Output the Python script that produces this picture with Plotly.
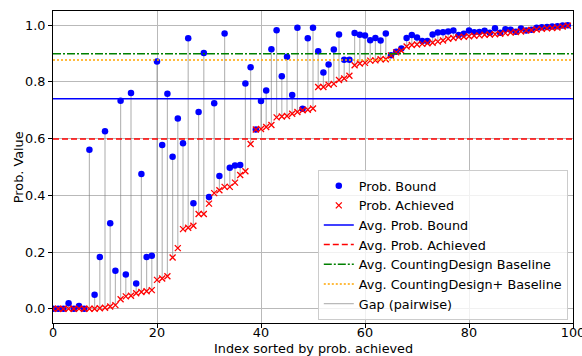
import plotly.graph_objects as go

# ---- data ----
index = list(range(100))
prob_bound = [
    0.0, 0.0, 0.0, 0.02, 0.0, 0.01, 0.0, 0.561, 0.05, 0.183,
    0.626, 0.302, 0.134, 0.734, 0.121, 0.761, 0.089, 0.475, 0.183, 0.187,
    0.872, 0.578, 0.758, 0.536, 0.671, 0.584, 0.954, 0.372, 0.694, 0.902,
    0.394, 0.725, 0.468, 0.971, 0.497, 0.505, 0.507, 0.794, 0.852, 0.632,
    0.733, 0.770, 0.915, 0.982, 0.820, 0.889, 0.754, 0.991, 0.705, 0.954,
    0.991, 0.908, 0.833, 0.861, 0.914, 0.967, 0.878, 0.878, 0.972, 0.966,
    0.964, 0.947, 0.955, 0.946, 0.971, 0.894, 0.906, 0.918, 0.955, 0.965,
    0.957, 0.944, 0.944, 0.967, 0.974, 0.975, 0.978, 0.981, 0.965, 0.970,
    0.981, 0.975, 0.976, 0.980, 0.973, 0.989, 0.973, 0.986, 0.984, 0.977,
    0.988, 0.981, 0.984, 0.991, 0.993, 0.994, 0.995, 0.996, 0.999, 1.0,
]
prob_achieved = [
    0.0, 0.0, 0.0, 0.0, 0.0, 0.0, 0.0, 0.0, 0.0, 0.002,
    0.004, 0.008, 0.013, 0.034, 0.044, 0.046, 0.055, 0.059, 0.062, 0.066,
    0.102, 0.107, 0.115, 0.181, 0.214, 0.281, 0.286, 0.293, 0.334, 0.334,
    0.371, 0.408, 0.418, 0.430, 0.430, 0.445, 0.472, 0.485, 0.581, 0.632,
    0.634, 0.641, 0.648, 0.675, 0.678, 0.680, 0.688, 0.694, 0.700, 0.702,
    0.706, 0.782, 0.782, 0.790, 0.793, 0.807, 0.812, 0.822, 0.859, 0.865,
    0.867, 0.875, 0.876, 0.880, 0.880, 0.893, 0.904, 0.910, 0.925, 0.930,
    0.932, 0.934, 0.936, 0.938, 0.942, 0.946, 0.952, 0.955, 0.958, 0.959,
    0.961, 0.963, 0.964, 0.966, 0.967, 0.968, 0.970, 0.972, 0.974, 0.976,
    0.978, 0.981, 0.983, 0.985, 0.987, 0.989, 0.990, 0.992, 0.995, 0.998,
]
avg_bound = 0.741
avg_achieved = 0.599
avg_counting = 0.899
avg_counting_plus = 0.877
x_ticks = [0, 20, 40, 60, 80, 100]
y_ticks = [0.0, 0.2, 0.4, 0.6, 0.8, 1.0]

FONT = "DejaVu Sans"
FS = 12.8
fig = go.Figure()

# gap segments
gx, gy = [], []
for i, b, a in zip(index, prob_bound, prob_achieved):
    gx += [i, i, None]
    gy += [a, b, None]
fig.add_trace(go.Scatter(x=gx, y=gy, mode="lines", name="Gap (pairwise)",
                         line=dict(color="rgba(128,128,128,0.55)", width=1.2),
                         legendrank=7, hoverinfo="skip"))

fig.add_trace(go.Scatter(x=index, y=prob_bound, mode="markers", name="Prob. Bound",
                         marker=dict(color="blue", size=6.5, symbol="circle"),
                         legendrank=1))
fig.add_trace(go.Scatter(x=index, y=prob_achieved, mode="markers", name="Prob. Achieved",
                         marker=dict(color="red", size=6, symbol="x-thin",
                                     line=dict(color="red", width=1.3)),
                         legendrank=2))

xr = [x_ticks[0], x_ticks[-1]]
fig.add_trace(go.Scatter(x=xr, y=[avg_bound] * 2, mode="lines", name="Avg. Prob. Bound",
                         line=dict(color="blue", width=1.5), legendrank=3))
fig.add_trace(go.Scatter(x=xr, y=[avg_achieved] * 2, mode="lines", name="Avg. Prob. Achieved",
                         line=dict(color="red", width=1.5, dash="6px,3px"), legendrank=4))
fig.add_trace(go.Scatter(x=xr, y=[avg_counting] * 2, mode="lines",
                         name="Avg. CountingDesign Baseline",
                         line=dict(color="green", width=1.5, dash="8px,2px,2px,2px"),
                         legendrank=5))
fig.add_trace(go.Scatter(x=xr, y=[avg_counting_plus] * 2, mode="lines",
                         name="Avg. CountingDesign+ Baseline",
                         line=dict(color="orange", width=1.5, dash="2px,2px"),
                         legendrank=6))

axis_common = dict(showline=True, linecolor="black", linewidth=1, mirror=True,
                   ticks="outside", ticklen=4, tickcolor="black",
                   showgrid=True, gridcolor="#b9b9b9", gridwidth=0.8,
                   zeroline=False, ticklabeloverflow="allow", automargin=False,
                   tickfont=dict(family=FONT, size=FS, color="black"))

fig.update_xaxes(range=xr, tickvals=x_ticks, ticklabelstandoff=-6, **axis_common)
fig.update_yaxes(range=[-0.05, 1.05], tickvals=y_ticks, tickformat=".1f", **axis_common)

fig.update_layout(
    width=582, height=356,
    margin=dict(l=53, r=9, t=11, b=33, autoexpand=False),
    plot_bgcolor="white", paper_bgcolor="white",
    font=dict(family=FONT, size=FS, color="black"),
    legend=dict(x=0.99, y=0.01, xanchor="right", yanchor="bottom",
                bgcolor="rgba(255,255,255,0.8)", bordercolor="#cccccc", borderwidth=1,
                font=dict(family=FONT, size=FS), itemwidth=30,
                traceorder="normal"),
    annotations=[
        dict(text="Index sorted by prob. achieved", xref="paper", yref="paper",
             x=0.5, y=-0.083, xanchor="center", yanchor="middle", showarrow=False,
             font=dict(family=FONT, size=FS)),
        dict(text="Prob. Value", xref="paper", yref="paper", textangle=-90,
             x=-0.067, y=0.5, xanchor="center", yanchor="middle", showarrow=False,
             font=dict(family=FONT, size=FS)),
    ],
)

# remove the page's default body margin so the figure sits at the window origin
fig.write_html("out.html", config={"displayModeBar": False},
               post_script="document.body.style.margin='0';")
